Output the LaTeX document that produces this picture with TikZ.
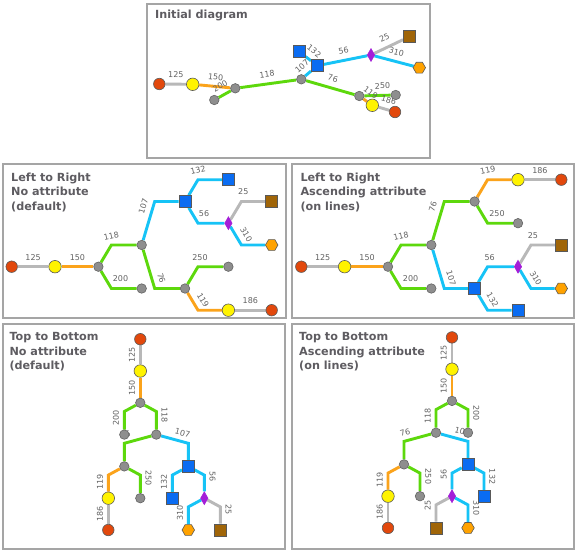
\documentclass[tikz,border=0pt]{standalone}
\usepackage{fontspec}
\setmainfont{DejaVu Sans}
\usetikzlibrary{shapes.geometric,backgrounds}

\definecolor{nodered}{HTML}{E2480C}
\definecolor{nodeyellow}{HTML}{FFF300}
\definecolor{nodegray}{HTML}{8E8E8E}
\definecolor{nodeblue}{HTML}{0A6CF2}
\definecolor{nodebrown}{HTML}{A06508}
\definecolor{nodepurple}{HTML}{A41ED8}
\definecolor{nodeorange}{HTML}{FFA200}
\definecolor{linegray}{HTML}{B8B8B8}
\definecolor{lineorange}{HTML}{FBA31B}
\definecolor{linegreen}{HTML}{5DD80C}
\definecolor{linecyan}{HTML}{16C3F6}
\definecolor{framegray}{HTML}{A5A5A5}
\definecolor{titlegray}{HTML}{5E5C61}
\definecolor{labelgray}{HTML}{626262}

\begin{document}
\begin{tikzpicture}[x=1pt, y=-1pt,
    panel/.style={draw=framegray, line width=2pt},
    heading/.style={anchor=north west, inner sep=0pt, align=left, text=titlegray, font=\fontsize{11.2}{14.5}\selectfont\bfseries},
    vtx/.style={draw=black!65, line width=0.6pt, inner sep=0pt},
    rnode/.style={vtx, circle, fill=nodered, minimum size=11.5pt},
    ynode/.style={vtx, circle, fill=nodeyellow, minimum size=12.5pt},
    gnode/.style={vtx, circle, fill=nodegray, draw=nodegray!70!black, minimum size=9.5pt},
    bnode/.style={vtx, rectangle, fill=nodeblue, minimum size=12pt},
    knode/.style={vtx, rectangle, fill=nodebrown, minimum size=12pt},
    dnode/.style={vtx, diamond, fill=nodepurple, draw=nodepurple, minimum width=7.5pt, minimum height=13pt},
    hnode/.style={vtx, regular polygon, regular polygon sides=6, fill=nodeorange, minimum size=12.5pt},
    link/.style={line width=2.9pt},
    egray/.style={link, draw=linegray},
    eorange/.style={link, draw=lineorange},
    egreen/.style={link, draw=linegreen},
    ecyan/.style={link, draw=linecyan},
    lbl/.style={font=\fontsize{8}{9.5}\selectfont, text=labelgray, inner xsep=1pt, inner ysep=5pt, anchor=south},
    lup/.style={lbl, rotate=90},
    ldn/.style={lbl, rotate=-90}]

\useasboundingbox (0,0) rectangle (576,552);

% initial diagram
\draw[panel] (147,4) rectangle (430,158);
\node[heading] (iniTitle) at (155,9.6) {Initial diagram};
\node[rnode] (ini0) at (159.3,84) {};
\node[ynode] (ini125) at (192.7,84.3) {};
\node[gnode] (ini150) at (235.3,88.3) {};
\node[gnode] (ini200) at (214.3,100) {};
\node[gnode] (ini118) at (301.3,79.3) {};
\node[bnode] (ini107) at (317.3,65.7) {};
\node[bnode] (ini132) at (299.3,51.7) {};
\node[dnode] (ini56) at (371,55) {};
\node[knode] (ini25) at (409.3,36.7) {};
\node[hnode] (ini310) at (419.3,67.7) {};
\node[gnode] (ini76) at (359.3,96) {};
\node[gnode] (ini250) at (395.7,95) {};
\node[ynode] (ini119) at (372.3,105.3) {};
\node[rnode] (ini186) at (395,112) {};

\begin{scope}[on background layer]
\fill[white] (0,0) rectangle (576,552);
\draw[egray] (ini0) -- node[lbl, sloped] {125} (ini125);
\draw[eorange] (ini125) -- node[lbl, sloped] {150} (ini150);
\draw[egreen] (ini150) -- node[lbl, sloped] {200} (ini200);
\draw[egreen] (ini150) -- node[lbl, sloped] {118} (ini118);
\draw[ecyan] (ini118) -- node[lbl, sloped] {107} (ini107);
\draw[ecyan] (ini107) -- node[lbl, sloped] {132} (ini132);
\draw[ecyan] (ini107) -- node[lbl, sloped] {56} (ini56);
\draw[egray] (ini56) -- node[lbl, sloped] {25} (ini25);
\draw[ecyan] (ini56) -- node[lbl, sloped] {310} (ini310);
\draw[egreen] (ini118) -- node[lbl, sloped] {76} (ini76);
\draw[egreen] (ini76) -- node[lbl, sloped, pos=0.7] {250} (ini250);
\draw[eorange] (ini76) -- node[lbl, sloped] {119} (ini119);
\draw[egray] (ini119) -- node[lbl, sloped, pos=0.7] {186} (ini186);
\end{scope}

% left to right, no attribute
\draw[panel] (3,164) rectangle (286,318);
\node[heading] (lrnTitle) at (11,172.4) {Left to Right\\No attribute\\(default)};
\node[rnode] (lrn0) at (11.7,266.7) {};
\node[ynode] (lrn125) at (55.0,266.7) {};
\node[gnode] (lrn150) at (98.4,266.7) {};
\node[gnode] (lrn118) at (141.7,245.0) {};
\node[gnode] (lrn200) at (141.7,288.5) {};
\node[bnode] (lrn107) at (185.0,201.5) {};
\node[gnode] (lrn76) at (185.0,288.5) {};
\node[bnode] (lrn132) at (228.4,179.7) {};
\node[dnode] (lrn56) at (228.4,223.2) {};
\node[gnode] (lrn250) at (228.4,266.7) {};
\node[ynode] (lrn119) at (228.4,310.2) {};
\node[knode] (lrn25) at (271.7,201.5) {};
\node[hnode] (lrn310) at (271.7,245.0) {};
\node[rnode] (lrn186) at (271.7,310.2) {};

\begin{scope}[on background layer]
\draw[egray] (lrn0) -- node[lbl] {125} (lrn125);
\draw[eorange] (lrn125) -- node[lbl] {150} (lrn150);
\draw[egreen] (lrn150) -- ([xshift=13pt]lrn150.center |- lrn118.center) -- node[lbl, pos=0.07, rotate=12] {118} (lrn118);
\draw[egreen] (lrn150) -- ([xshift=13pt]lrn150.center |- lrn200.center) -- node[lbl, pos=0.36] {200} (lrn200);
\draw[ecyan] (lrn118) -- node[lbl, sloped, pos=0.8] {107} ([xshift=13pt]lrn118.center |- lrn107.center) -- (lrn107);
\draw[egreen] (lrn118) -- node[lbl, sloped, pos=0.8] {76} ([xshift=13pt]lrn118.center |- lrn76.center) -- (lrn76);
\draw[ecyan] (lrn107) -- ([xshift=13pt]lrn107.center |- lrn132.center) -- node[lbl, pos=0.08, rotate=12] {132} (lrn132);
\draw[ecyan] (lrn107) -- ([xshift=13pt]lrn107.center |- lrn56.center) -- node[lbl, pos=0.23] {56} (lrn56);
\draw[egray] (lrn56) -- ([xshift=13pt]lrn56.center |- lrn25.center) -- node[lbl, pos=0.08] {25} (lrn25);
\draw[ecyan] (lrn56) -- node[lbl, sloped, pos=0.7] {310} ([xshift=13pt]lrn56.center |- lrn310.center) -- (lrn310);
\draw[egreen] (lrn76) -- ([xshift=13pt]lrn76.center |- lrn250.center) -- node[lbl, pos=0.08] {250} (lrn250);
\draw[eorange] (lrn76) -- node[lbl, sloped, pos=0.7] {119} ([xshift=13pt]lrn76.center |- lrn119.center) -- (lrn119);
\draw[egray] (lrn119) -- node[lbl] {186} (lrn186);
\end{scope}

% left to right, ascending attribute
\draw[panel] (292,164) rectangle (574,318);
\node[heading] (lraTitle) at (300.3,172.4) {Left to Right\\Ascending attribute\\(on lines)};
\node[rnode] (lra0) at (301.3,266.7) {};
\node[ynode] (lra125) at (344.6,266.7) {};
\node[gnode] (lra150) at (388.0,266.7) {};
\node[gnode] (lra118) at (431.3,245.0) {};
\node[gnode] (lra200) at (431.3,288.5) {};
\node[gnode] (lra76) at (474.6,201.5) {};
\node[bnode] (lra107) at (474.6,288.5) {};
\node[ynode] (lra119) at (518.0,179.7) {};
\node[gnode] (lra250) at (518.0,223.2) {};
\node[dnode] (lra56) at (518.0,266.7) {};
\node[bnode] (lra132) at (518.0,310.2) {};
\node[rnode] (lra186) at (561.3,179.7) {};
\node[knode] (lra25) at (561.3,245.0) {};
\node[hnode] (lra310) at (561.3,288.5) {};

\begin{scope}[on background layer]
\draw[egray] (lra0) -- node[lbl] {125} (lra125);
\draw[eorange] (lra125) -- node[lbl] {150} (lra150);
\draw[egreen] (lra150) -- ([xshift=13pt]lra150.center |- lra118.center) -- node[lbl, pos=0.08, rotate=12] {118} (lra118);
\draw[egreen] (lra150) -- ([xshift=13pt]lra150.center |- lra200.center) -- node[lbl, pos=0.38] {200} (lra200);
\draw[egreen] (lra118) -- node[lbl, sloped, pos=0.8] {76} ([xshift=13pt]lra118.center |- lra76.center) -- (lra76);
\draw[ecyan] (lra118) -- node[lbl, sloped, pos=0.8] {107} ([xshift=13pt]lra118.center |- lra107.center) -- (lra107);
\draw[eorange] (lra76) -- ([xshift=13pt]lra76.center |- lra119.center) -- node[lbl, pos=0.09, rotate=12] {119} (lra119);
\draw[egreen] (lra76) -- ([xshift=13pt]lra76.center |- lra250.center) -- node[lbl, pos=0.37] {250} (lra250);
\draw[ecyan] (lra107) -- ([xshift=13pt]lra107.center |- lra56.center) -- node[lbl, pos=0.08] {56} (lra56);
\draw[ecyan] (lra107) -- node[lbl, sloped, pos=0.65] {132} ([xshift=13pt]lra107.center |- lra132.center) -- (lra132);
\draw[egray] (lra56) -- ([xshift=13pt]lra56.center |- lra25.center) -- node[lbl, pos=0.08] {25} (lra25);
\draw[ecyan] (lra56) -- node[lbl, sloped, pos=0.7] {310} ([xshift=13pt]lra56.center |- lra310.center) -- (lra310);
\draw[egray] (lra119) -- node[lbl] {186} (lra186);
\end{scope}

% top to bottom, no attribute
\draw[panel] (3,324) rectangle (285,549);
\node[heading] (tbnTitle) at (9.3,332.4) {Top to Bottom\\No attribute\\(default)};
\node[rnode] (tbn0) at (140.3,339.2) {};
\node[ynode] (tbn125) at (140.3,371.0) {};
\node[gnode] (tbn150) at (140.3,402.8) {};
\node[gnode] (tbn200) at (124.3,434.6) {};
\node[gnode] (tbn118) at (156.3,434.6) {};
\node[gnode] (tbn76) at (124.3,466.4) {};
\node[bnode] (tbn107) at (188.3,466.4) {};
\node[ynode] (tbn119) at (108.3,498.2) {};
\node[gnode] (tbn250) at (140.3,498.2) {};
\node[bnode] (tbn132) at (172.3,498.2) {};
\node[dnode] (tbn56) at (204.3,498.2) {};
\node[rnode] (tbn186) at (108.3,530.0) {};
\node[hnode] (tbn310) at (188.3,530.0) {};
\node[knode] (tbn25) at (220.3,530.0) {};

\begin{scope}[on background layer, lbl/.append style={inner ysep=3.8pt}]
\draw[egray] (tbn0) -- node[lup] {125} (tbn125);
\draw[eorange] (tbn125) -- node[lup] {150} (tbn150);
\draw[egreen] (tbn150) -- ([yshift=-8.7pt]tbn150.center -| tbn200.center) -- node[lup, pos=0.37] {200} (tbn200);
\draw[egreen] (tbn150) -- ([yshift=-8.7pt]tbn150.center -| tbn118.center) -- node[ldn, pos=0.19] {118} (tbn118);
\draw[egreen] (tbn118) -- node[lbl, sloped, pos=0.88] {76} ([yshift=-8.7pt]tbn118.center -| tbn76.center) -- (tbn76);
\draw[ecyan] (tbn118) -- node[lbl, sloped, pos=0.71] {107} ([yshift=-8.7pt]tbn118.center -| tbn107.center) -- (tbn107);
\draw[eorange] (tbn76) -- ([yshift=-8.7pt]tbn76.center -| tbn119.center) -- node[lup, pos=0.39] {119} (tbn119);
\draw[egreen] (tbn76) -- ([yshift=-8.7pt]tbn76.center -| tbn250.center) -- node[ldn, pos=0.17] {250} (tbn250);
\draw[ecyan] (tbn107) -- ([yshift=-8.7pt]tbn107.center -| tbn132.center) -- node[lup, pos=0.39] {132} (tbn132);
\draw[ecyan] (tbn107) -- ([yshift=-8.7pt]tbn107.center -| tbn56.center) -- node[ldn, pos=0.1] {56} (tbn56);
\draw[egray] (tbn119) -- node[lup] {186} (tbn186);
\draw[ecyan] (tbn56) -- ([yshift=-8.7pt]tbn56.center -| tbn310.center) -- node[lup, pos=0.36] {310} (tbn310);
\draw[egray] (tbn56) -- ([yshift=-8.7pt]tbn56.center -| tbn25.center) -- node[ldn, pos=0.18] {25} (tbn25);
\end{scope}

% top to bottom, ascending attribute
\draw[panel] (292,324) rectangle (574,549);
\node[heading] (tbaTitle) at (299,332.4) {Top to Bottom\\Ascending attribute\\(on lines)};
\node[rnode] (tba0) at (452,337.4) {};
\node[ynode] (tba125) at (452,369.2) {};
\node[gnode] (tba150) at (452,400.9) {};
\node[gnode] (tba118) at (436,432.7) {};
\node[gnode] (tba200) at (468,432.7) {};
\node[gnode] (tba76) at (404,464.4) {};
\node[bnode] (tba107) at (468,464.4) {};
\node[ynode] (tba119) at (388,496.2) {};
\node[gnode] (tba250) at (420,496.2) {};
\node[dnode] (tba56) at (452,496.2) {};
\node[bnode] (tba132) at (484,496.2) {};
\node[rnode] (tba186) at (388,527.9) {};
\node[knode] (tba25) at (436,527.9) {};
\node[hnode] (tba310) at (468,527.9) {};

\begin{scope}[on background layer, lbl/.append style={inner ysep=3.8pt}]
\draw[egray] (tba0) -- node[lup] {125} (tba125);
\draw[eorange] (tba125) -- node[lup] {150} (tba150);
\draw[egreen] (tba150) -- ([yshift=-8.7pt]tba150.center -| tba118.center) -- node[lup, pos=0.33] {118} (tba118);
\draw[egreen] (tba150) -- ([yshift=-8.7pt]tba150.center -| tba200.center) -- node[ldn, pos=0.2] {200} (tba200);
\draw[egreen] (tba118) -- node[lbl, sloped, pos=0.88] {76} ([yshift=-8.7pt]tba118.center -| tba76.center) -- (tba76);
\draw[ecyan] (tba118) -- node[lbl, sloped, pos=0.71] {107} ([yshift=-8.7pt]tba118.center -| tba107.center) -- (tba107);
\draw[eorange] (tba76) -- ([yshift=-8.7pt]tba76.center -| tba119.center) -- node[lup, pos=0.41] {119} (tba119);
\draw[egreen] (tba76) -- ([yshift=-8.7pt]tba76.center -| tba250.center) -- node[ldn, pos=0.19] {250} (tba250);
\draw[ecyan] (tba107) -- ([yshift=-8.7pt]tba107.center -| tba56.center) -- node[lup, pos=0.06] {56} (tba56);
\draw[ecyan] (tba107) -- ([yshift=-8.7pt]tba107.center -| tba132.center) -- node[ldn, pos=0.21] {132} (tba132);
\draw[egray] (tba119) -- node[lup] {186} (tba186);
\draw[egray] (tba56) -- ([yshift=-8.7pt]tba56.center -| tba25.center) -- node[lup, pos=0.02] {25} (tba25);
\draw[ecyan] (tba56) -- ([yshift=-8.7pt]tba56.center -| tba310.center) -- node[ldn, pos=0.19] {310} (tba310);
\end{scope}
\end{tikzpicture}
\end{document}
